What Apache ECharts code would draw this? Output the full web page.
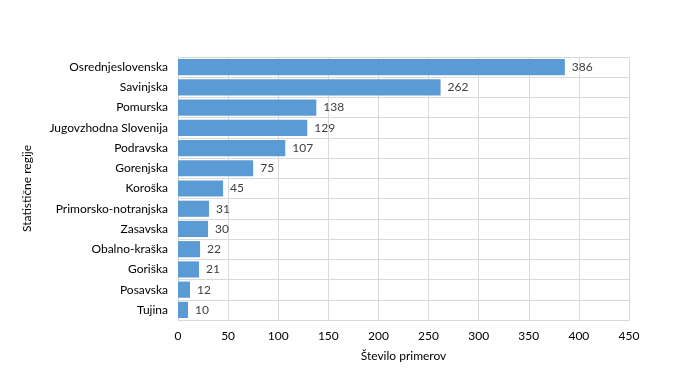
<!DOCTYPE html>
<html><head><meta charset="utf-8">
<script src="https://cdn.jsdelivr.net/npm/echarts@6/dist/echarts.min.js"></script>
<style>html,body{margin:0;padding:0;background:#fff}#c{width:697px;height:389px}</style>
</head><body><div id="c"></div>
<script>
const categories = ["Osrednjeslovenska","Savinjska","Pomurska","Jugovzhodna Slovenija","Podravska","Gorenjska","Koroška","Primorsko-notranjska","Zasavska","Obalno-kraška","Goriška","Posavska","Tujina"];
const values = [386,262,138,129,107,75,45,31,30,22,21,12,10];
const xTicks = [0,50,100,150,200,250,300,350,400,450];
const xName = "Število primerov";
const yName = "Statistične regije";

const font = "Lato, 'Open Sans', 'Liberation Sans', sans-serif";
const chart = echarts.init(document.getElementById('c'), null, {renderer:'canvas'});
chart.setOption({
  animation:false,
  grid:{left:178, right:68, top:57, bottom:69, containLabel:false},
  xAxis:{
    type:'value', min:xTicks[0], max:xTicks[xTicks.length-1], interval:50,
    name:xName, nameLocation:'middle', nameGap:30,
    nameTextStyle:{color:'#000', fontSize:12, fontFamily:font},
    axisLine:{show:true, lineStyle:{color:'#d9d9d9'}},
    axisTick:{show:false},
    axisLabel:{color:'#000', fontSize:12, fontFamily:font, margin:10},
    splitLine:{show:true, lineStyle:{color:'#d9d9d9', width:1}}
  },
  yAxis:{
    type:'category', data:categories, inverse:true,
    name:yName, nameLocation:'middle', nameGap:145, nameRotate:90,
    nameTextStyle:{color:'#000', fontSize:12, fontFamily:font},
    axisLine:{show:true, lineStyle:{color:'#d9d9d9'}},
    axisTick:{show:false},
    axisLabel:{color:'#000', fontSize:12, fontFamily:font, margin:10},
    splitLine:{show:true, lineStyle:{color:'#d9d9d9', width:1}}
  },
  series:[{
    type:'bar', data:values, barCategoryGap:'20%',
    itemStyle:{color:'#5b9bd5'},
    label:{show:true, position:'right', distance:7, color:'#404040', fontSize:12, fontFamily:font}
  }]
});
</script></body></html>
